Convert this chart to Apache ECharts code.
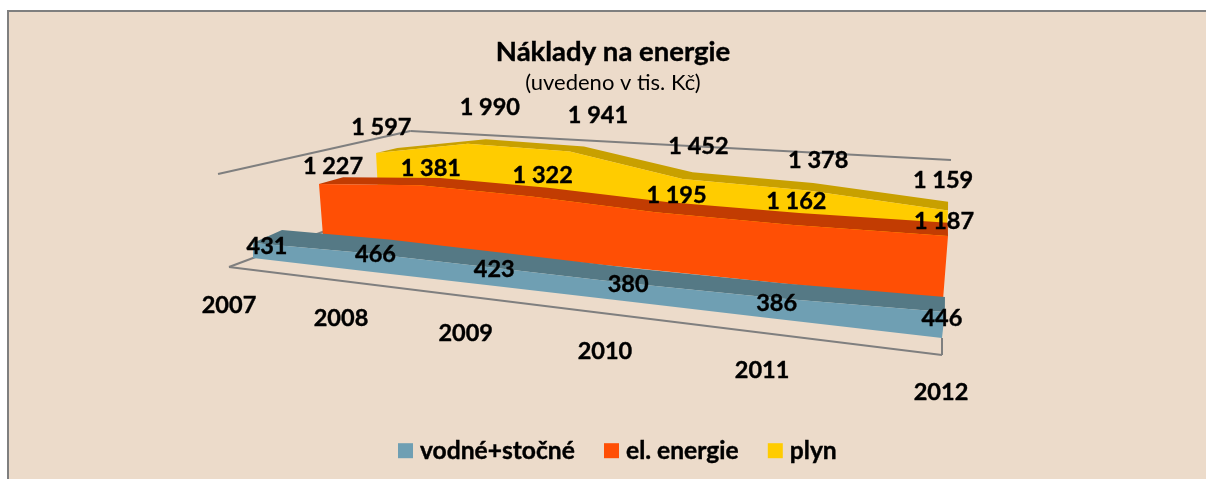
<!DOCTYPE html>
<html lang="cs">
<head>
    <meta charset="UTF-8">
    <title>Náklady na energie</title>
    <style>
        html, body { margin: 0; padding: 0; background: #fff; }
        #chart { width: 1206px; height: 479px; }
    </style>
    <script src="https://cdn.jsdelivr.net/npm/echarts@6/dist/echarts.min.js"></script>
</head>
<body>
<div id="chart"></div>
<script>
    var years = ['2007', '2008', '2009', '2010', '2011', '2012'];
    var vodne = [431, 466, 423, 380, 386, 446];
    var elEnergie = [1227, 1381, 1322, 1195, 1162, 1187];
    var plyn = [1597, 1990, 1941, 1452, 1378, 1159];

    var W = 1206, H = 479, yMax = 2000;
    var font = 'Lato, "Open Sans", sans-serif';

    // the flat grid coords get bent onto planes of a fake 3d box
    // x/y = base line left/right end, s = px per value, lean = sideways drift going up
    var floorFront = {x0: 229, y0: 267, x1: 942, y1: 355, s0: 0.0465, s1: 0.06, lean0: -0.118, lean1: 0};
    var wallBack = {x0: 413, y0: 198, x1: 951, y1: 245, s0: 0.0335, s1: 0.0425, lean0: -0.04, lean1: 0};
    var blueFront = {x0: 253, y0: 258, x1: 942, y1: 338, s0: 0.0348, s1: 0.0583, lean0: 0, lean1: 0.11};
    var blueBack = {x0: 282, y0: 246, x1: 944, y1: 321, s0: 0.037, s1: 0.054, lean0: 0, lean1: 0.04};
    var redFront = {x0: 323, y0: 236, x1: 943, y1: 300, s0: 0.0424, s1: 0.0539, lean0: -0.077, lean1: 0.078};
    var redBack = {x0: 345, y0: 225, x1: 946, y1: 282, s0: 0.039, s1: 0.05, lean0: -0.04, lean1: 0.03};
    var yellowFront = {x0: 379, y0: 212, x1: 945, y1: 265, s0: 0.037, s1: 0.047, lean0: -0.05, lean1: 0.055};
    var yellowBack = {x0: 399, y0: 204, x1: 946, y1: 254, s0: 0.035, s1: 0.045, lean0: -0.03, lean1: 0.04};

    // label offsets from the point they belong to
    var blueNudge = [[14, 3], [11, 2], [7, 2], [5, 2], [2, 5], [-3, 6]];
    var redNudge = [[14, -18], [11, -17], [11, -21], [21, -17], [3, -24], [-4, -15]];
    var yellowNudge = [[-16, -21], [4, -32], [14, -31], [6, -26], [5, -23], [-5, -21]];
    var yearNudge = [[0, 38], [-3, 37], [-5, 37], [-6, 37], [-5, 37], [-1, 37]];

    function lerp(a, b, t) { return a + (b - a) * t; }

    function project(api, k, v, p) {
        var c = api.coord([k, v]);
        var u = c[0] / W;
        var val = (H - c[1]) / H * yMax;
        var t = u / (u + 1.3 * (1 - u));
        var h = lerp(p.s0, p.s1, t) * val;
        return [lerp(p.x0, p.x1, t) + lerp(p.lean0, p.lean1, t) * h, lerp(p.y0, p.y1, t) - h];
    }

    function fmt(v) {
        return String(v).replace(/\B(?=(\d{3})+$)/g, ' ');
    }

    function label(text, pos, z2) {
        return {
            type: 'text',
            z2: z2,
            style: {
                text: text, x: pos[0], y: pos[1], align: 'center', verticalAlign: 'middle',
                fontFamily: font, fontWeight: 'bold', fontSize: 23.5, fill: '#000',
                stroke: '#000', lineWidth: 0.4
            }
        };
    }

    function areaSeries(name, values, colors, front, back, nudge, anchor, z2) {
        return {
            name: name,
            type: 'custom',
            coordinateSystem: 'cartesian2d',
            itemStyle: {color: colors[0]},
            data: values.map(function (v, i) { return [i, v]; }),
            renderItem: function (params, api) {
                var i = params.dataIndex;
                var a = project(api, i, values[i], anchor);
                var kids = [label(fmt(values[i]), [a[0] + nudge[i][0], a[1] + nudge[i][1]], 100)];
                if (i === 0) {
                    var topF = [], topB = [], baseF = [];
                    for (var k = 0; k < values.length; k++) {
                        topF.push(project(api, k, values[k], front));
                        topB.push(project(api, k, values[k], back));
                        baseF.push(project(api, k, 0, front));
                    }
                    kids.push({
                        type: 'polygon', z2: z2,
                        shape: {points: topF.concat(topB.slice().reverse())},
                        style: {fill: colors[1]}
                    });
                    kids.push({
                        type: 'polygon', z2: z2 + 1,
                        shape: {points: topF.concat(baseF.slice().reverse())},
                        style: {fill: colors[0]}
                    });
                }
                return {type: 'group', children: kids};
            }
        };
    }

    function line(a, b) {
        return {
            type: 'line', z2: 0,
            shape: {x1: a[0], y1: a[1], x2: b[0], y2: b[1]},
            style: {stroke: '#7f7f7f', lineWidth: 2}
        };
    }

    // box outline and the year labels
    var frameSeries = {
        type: 'custom',
        coordinateSystem: 'cartesian2d',
        data: years.map(function (y, i) { return [i, 0]; }),
        renderItem: function (params, api) {
            var i = params.dataIndex;
            var p = project(api, i, 0, floorFront);
            var kids = [label(years[i], [p[0] + yearNudge[i][0], p[1] + yearNudge[i][1]], 100)];
            if (i === 0) {
                var last = years.length - 1;
                kids.push(line(project(api, 0, 0, floorFront), project(api, last, 0, floorFront)));
                kids.push(line(project(api, 0, 0, floorFront), project(api, 0, 0, wallBack)));
                kids.push(line(project(api, last, 0, floorFront), project(api, last, 0, blueFront)));
                kids.push(line(project(api, 0, yMax, floorFront), project(api, 0, yMax, wallBack)));
                kids.push(line(project(api, 0, yMax, wallBack), project(api, last, yMax, wallBack)));
            }
            return {type: 'group', children: kids};
        }
    };

    var option = {
        animation: false,
        backgroundColor: '#fff',
        graphic: [{
            type: 'rect', z: -10,
            shape: {x: 8, y: 11, width: 1230, height: 500},
            style: {fill: '#ecdbca', stroke: '#7f7f7f', lineWidth: 2}
        }],
        title: {
            text: 'Náklady na energie',
            subtext: '(uvedeno v tis. Kč)',
            left: 608,
            top: 33,
            textAlign: 'center',
            itemGap: 6,
            textStyle: {fontFamily: font, fontWeight: 'bold', fontSize: 27.5, color: '#000', textBorderColor: '#000', textBorderWidth: 0.4},
            subtextStyle: {fontFamily: font, fontSize: 22, color: '#000'}
        },
        legend: {
            data: ['vodné+stočné', 'el. energie', 'plyn'],
            left: 398,
            top: 438,
            padding: 0,
            icon: 'rect',
            itemWidth: 15,
            itemHeight: 15,
            itemGap: 29,
            selectedMode: false,
            textStyle: {fontFamily: font, fontWeight: 'bold', fontSize: 24.6, color: '#000', padding: [0, 0, 0, 2], textBorderColor: '#000', textBorderWidth: 0.4}
        },
        grid: {left: 0, right: 0, top: 0, bottom: 0},
        xAxis: {type: 'category', data: years, boundaryGap: false, show: false},
        yAxis: {type: 'value', min: 0, max: yMax, show: false},
        series: [
            frameSeries,
            areaSeries('plyn', plyn, ['#ffcc00', '#c8a000'], yellowFront, yellowBack, yellowNudge, yellowBack, 1),
            areaSeries('el. energie', elEnergie, ['#ff4f05', '#c23c02'], redFront, redBack, redNudge, redFront, 3),
            areaSeries('vodné+stočné', vodne, ['#6f9fb3', '#557985'], blueFront, blueBack, blueNudge, blueFront, 5)
        ]
    };

    var chart = echarts.init(document.getElementById('chart'));
    chart.setOption(option);
</script>
</body>
</html>
